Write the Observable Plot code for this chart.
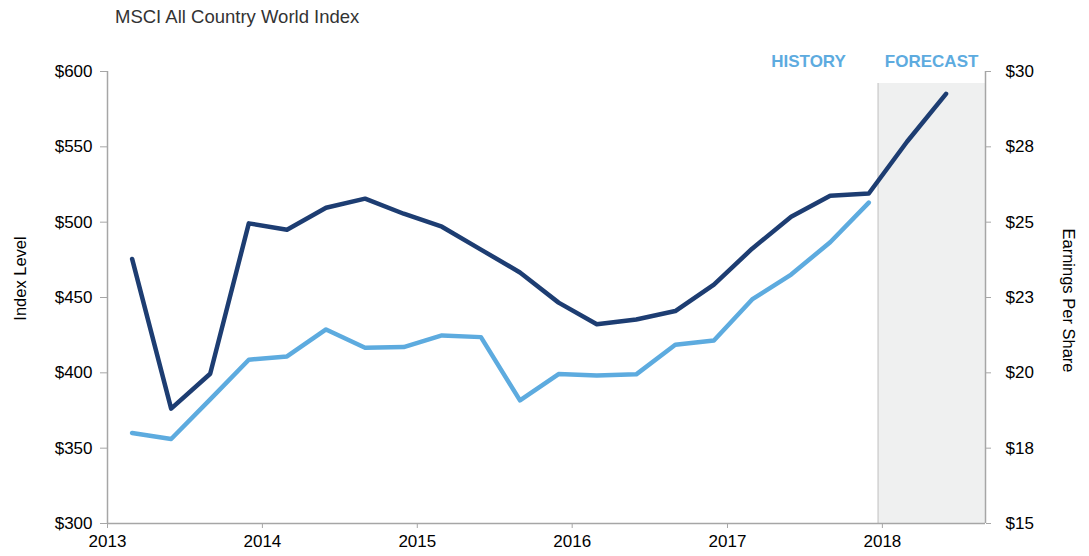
<!DOCTYPE html>
<html><head><meta charset="utf-8">
<script src="https://cdn.jsdelivr.net/npm/d3@7"></script>
<script src="https://cdn.jsdelivr.net/npm/@observablehq/plot@0.6"></script>
<style>
body{margin:0;background:#fff;font-family:"Liberation Sans",Arial,sans-serif;}
#title{height:34px;line-height:34px;padding-left:115px;font-size:18.5px;color:#333;}
</style></head><body>
<div id="title">MSCI All Country World Index</div>
<div id="chart"></div>
<script>
const dates = [
  "2013-02-28","2013-05-31","2013-08-31","2013-11-30",
  "2014-02-28","2014-05-31","2014-08-31","2014-11-30",
  "2015-02-28","2015-05-31","2015-08-31","2015-11-30",
  "2016-02-28","2016-05-31","2016-08-31","2016-11-30",
  "2017-02-28","2017-05-31","2017-08-31","2017-11-30",
  "2018-02-28","2018-05-31"
];
// Index level (left axis), history only
const indexLevel = [360.1, 356.1, 382.4, 408.7, 410.9, 428.8, 416.7, 417.1, 424.8, 423.7,
  381.7, 399.2, 398.3, 399.0, 418.6, 421.5, 448.7, 465.2, 486.7, 513.0];
// Earnings per share (right axis), history + forecast
const eps = [23.78, 18.81, 19.97, 24.96, 24.75, 25.48, 25.78, 25.28, 24.85, 24.09, 23.33,
  22.33, 21.61, 21.77, 22.05, 22.93, 24.12, 25.18, 25.88, 25.95, 27.67, 29.26];

const xTickYears = [2013, 2014, 2015, 2016, 2017, 2018];
const leftTicks = [300, 350, 400, 450, 500, 550, 600];
const epsTicks = [15, 17.5, 20, 22.5, 25, 27.5, 30];
const rightTickLabels = ["$15", "$18", "$20", "$23", "$25", "$28", "$30"];
const periodLabels = [
  {label: "HISTORY", date: "2017-07-11"},
  {label: "FORECAST", date: "2018-04-27"}
];
const forecastStart = "2017-12-22";
const xStart = "2013-01-01", xEnd = "2018-09-01";
const shadeTop = 592;

const parse = d3.utcParse("%Y-%m-%d");
const toLeft = e => 300 + (e - 15) * 20;
const indexData = indexLevel.map((v, i) => ({date: parse(dates[i]), v}));
const epsData = eps.map((v, i) => ({date: parse(dates[i]), v: toLeft(v)}));
const xDomain = [parse(xStart), parse(xEnd)];
const rightMap = new Map(epsTicks.map((e, i) => [toLeft(e), rightTickLabels[i]]));

const gray = "#a6a6a6";
const light = "#5dabdf";
const dark = "#1d3d72";
const font = "'Liberation Sans', Arial, sans-serif";

const plot = Plot.plot({
  width: 1089, height: 522,
  marginLeft: 107, marginRight: 104, marginTop: 37, marginBottom: 33,
  style: {fontFamily: font, fontSize: "17px", color: "#000", background: "#fff", overflow: "visible"},
  x: {type: "utc", domain: xDomain},
  y: {domain: [300, 600]},
  marks: [
    Plot.rect([{x1: parse(forecastStart), x2: xDomain[1]}], {x1: "x1", x2: "x2", y1: 300, y2: shadeTop, fill: "#eff0f0"}),
    Plot.ruleX([parse(forecastStart)], {y1: 300, y2: shadeTop, stroke: "#d2d2d2", strokeWidth: 1.5}),
    Plot.ruleX(xDomain, {y1: 300, y2: 600, stroke: gray, strokeWidth: 1.5}),
    Plot.ruleY([300], {stroke: gray, strokeWidth: 1.5}),
    Plot.axisX({ticks: xTickYears.map(y => new Date(Date.UTC(y, 0, 1))), tickFormat: d3.utcFormat("%Y"),
      tickSize: 5, tickPadding: 6, stroke: gray, label: null, fontSize: 17}),
    Plot.axisY({ticks: leftTicks, tickFormat: d => "$" + d, tickSize: 7, tickPadding: 8,
      stroke: gray, label: null, fontSize: 17}),
    Plot.axisY({anchor: "right", ticks: epsTicks.map(toLeft), tickFormat: d => rightMap.get(d),
      tickSize: 5, tickPadding: 15, stroke: gray, label: null, fontSize: 17}),
    Plot.lineY(indexData, {x: "date", y: "v", stroke: light, strokeWidth: 4.5}),
    Plot.lineY(epsData, {x: "date", y: "v", stroke: dark, strokeWidth: 4.5}),
    Plot.text(periodLabels, {x: d => parse(d.date), y: 600, text: "label", fill: light,
      fontWeight: "bold", fontSize: 17, dy: -10, lineAnchor: "middle"}),
    Plot.text(["Index Level"], {frameAnchor: "left", textAnchor: "middle", lineAnchor: "middle",
      rotate: -90, dx: -87, dy: -19, fontSize: 16.5, fill: "#000"}),
    Plot.text(["Earnings Per Share"], {frameAnchor: "right", textAnchor: "middle", lineAnchor: "middle",
      rotate: 90, dx: 83, dy: 3, fontSize: 16.5, fill: "#000"})
  ]
});
document.getElementById("chart").appendChild(plot);
</script>
</body></html>
